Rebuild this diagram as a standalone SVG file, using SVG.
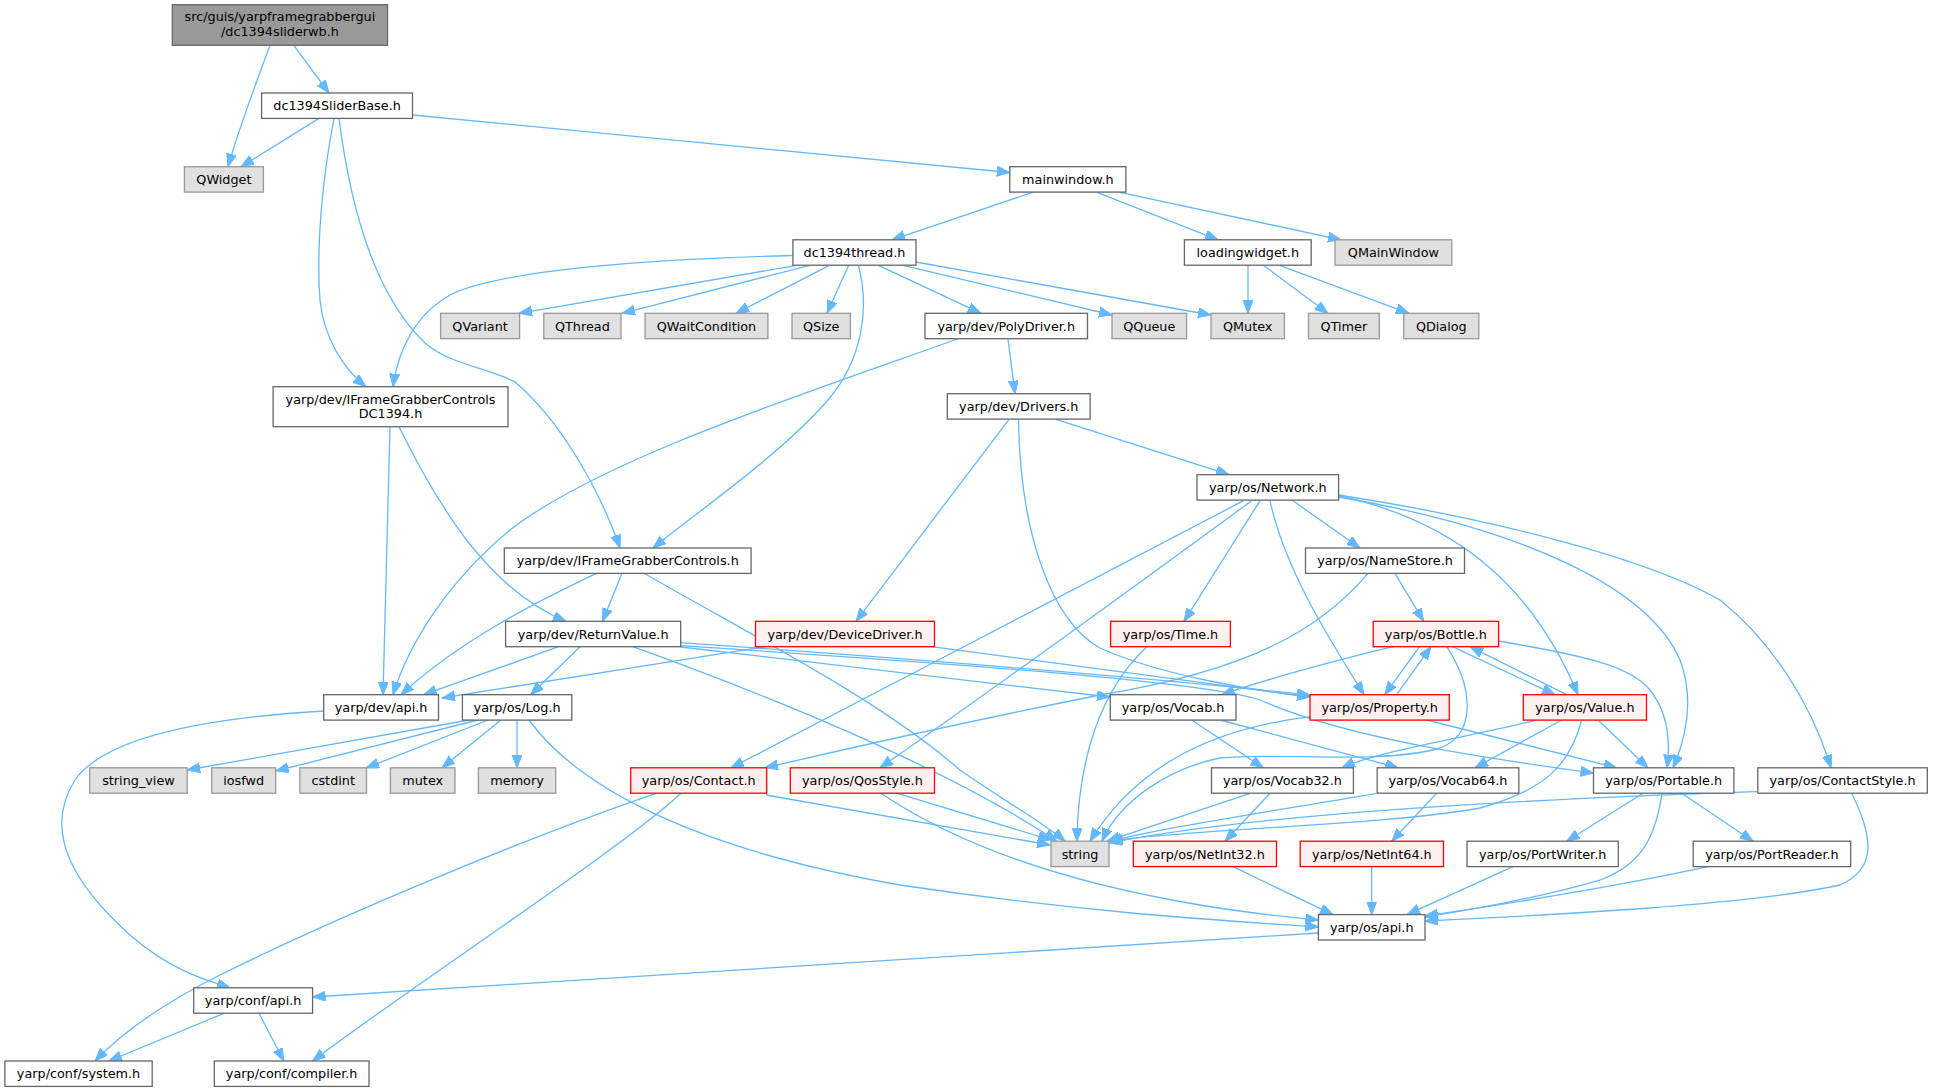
<svg xmlns="http://www.w3.org/2000/svg" width="1933" height="1092" viewBox="0 0 1933 1092">
<style>
rect{stroke-width:1.3}
.n{fill:#ffffff;stroke:#666666}
.g{fill:#e0e0e0;stroke:#999999}
.r{fill:#fff0f0;stroke:#ff0000}
.root{fill:#999999;stroke:#666666}
text{font-family:"DejaVu Sans","Liberation Sans",sans-serif;font-size:12.8px;text-anchor:middle;fill:#000000}
#edges path{fill:none;stroke:#63b8ff;stroke-width:1.3;marker-end:url(#a)}
</style>
<defs>
<marker id="a" markerUnits="userSpaceOnUse" markerWidth="14" markerHeight="11" refX="13" refY="5" orient="auto">
<path d="M0,0 L13,5 L0,10 z" fill="#63b8ff" stroke="#63b8ff" stroke-width="1"/>
</marker>
</defs>
<rect width="1933" height="1092" fill="#ffffff"/>
<g id="edges">
<path d="M270,45.3 C258,78 240,125 228,166.7"/>
<path d="M293.8,45.3 L329,93"/>
<path d="M319,118.4 L241,166.7"/>
<path d="M334,118.4 C322,180 316,250 320,300 C324,340 345,370 366,386.7"/>
<path d="M339,118.4 C352,220 380,300 425,343 C450,365 490,368 515,382 C560,420 600,490 620,548"/>
<path d="M412.5,115 L1009.8,172.5"/>
<path d="M1032.6,192.3 L892,239.8"/>
<path d="M1097,192.3 L1218,239.8"/>
<path d="M1120,192.3 L1341,239.8"/>
<path d="M792.9,255.5 C650,259 500,270 450,295 C415,315 398,350 393,386.7"/>
<path d="M797,265.3 L519,313.3"/>
<path d="M810,265.3 L622,313.3"/>
<path d="M829.5,265.3 L736,313.3"/>
<path d="M848.7,265.3 L827,313.3"/>
<path d="M858.5,265.3 C870,310 862,360 828,400 C780,455 700,510 653,548"/>
<path d="M878.6,265.3 L981,313.3"/>
<path d="M903,265.3 L1112,315"/>
<path d="M916,262 L1211,315"/>
<path d="M1248,265.3 L1248,313.3"/>
<path d="M1263.4,265.3 L1328,313.3"/>
<path d="M1279.5,265.3 L1409,313.3"/>
<path d="M1008,339 L1015,393.7"/>
<path d="M957.6,339 C800,395 600,460 510,530 C450,580 410,640 393,694.7"/>
<path d="M390,426.7 L383,694.7"/>
<path d="M399,426.7 C440,510 490,590 566,621.3"/>
<path d="M596.5,573.3 C540,600 460,640 401,694.7"/>
<path d="M622,573.3 L602.6,621.3"/>
<path d="M644,573.3 C760,640 880,700 960,770 C1010,805 1040,820 1065,841.2"/>
<path d="M558.6,646.7 L423.7,694.7"/>
<path d="M580,646.7 L530.6,694.7"/>
<path d="M680.7,647 L1110,697"/>
<path d="M680.7,642.7 C900,658 1150,678 1310,695"/>
<path d="M680.7,645.7 C900,660 1200,680 1260,700 C1350,740 1500,760 1593.5,773"/>
<path d="M633,646.7 C780,700 950,770 1057,841.2"/>
<path d="M469,720 L187.2,770"/>
<path d="M478,720 L275.6,771"/>
<path d="M488,720 L366,768"/>
<path d="M501,720 L442,767.8"/>
<path d="M517,720 L517,767.8"/>
<path d="M529,720 C580,790 700,850 900,885 C1100,915 1250,922 1318.4,927"/>
<path d="M323.7,711 C240,716 110,730 75,780 C40,835 80,890 130,935 C170,970 205,980 230,987.8"/>
<path d="M224,1013.3 L109,1061"/>
<path d="M259,1013.3 L283.8,1061"/>
<path d="M1318.4,933 C900,958 500,985 312.6,997"/>
<path d="M656,793.3 C520,840 330,920 220,975 C160,1005 120,1035 95,1061"/>
<path d="M681,793.3 C620,850 420,980 312.6,1061"/>
<path d="M766,795 L1050,845"/>
<path d="M897.5,793.3 L1051,840"/>
<path d="M881,793.3 C950,840 1050,880 1200,905 C1260,915 1300,918 1318.4,920"/>
<path d="M1243.5,500.7 C1150,550 900,680 731,767.8"/>
<path d="M1251.7,500.7 C1150,575 1000,685 880,767.8"/>
<path d="M1260,500.7 L1184,621.3"/>
<path d="M1270,500.7 C1285,570 1330,640 1364,694.7"/>
<path d="M1288,497.3 L1360,548"/>
<path d="M1338.6,495.7 C1450,520 1530,580 1578,694.7"/>
<path d="M1338.6,497 C1530,530 1650,590 1680,660 C1695,700 1685,740 1673,767.8"/>
<path d="M1338.6,495 C1500,520 1650,560 1720,600 C1770,640 1810,700 1831,767.8"/>
<path d="M1395,573.3 L1423.7,621.3"/>
<path d="M1368,573.3 C1320,630 1250,670 1100,695 C950,725 820,755 765,767.8"/>
<path d="M1147,646.7 C1100,690 1078,760 1077,841.2"/>
<path d="M1419.6,646.7 L1384.7,694.7"/>
<path d="M1396.7,694.7 L1431,646.7"/>
<path d="M1452.5,646.7 L1555,694.7"/>
<path d="M1566.7,694.7 L1470,646.7"/>
<path d="M1393,646.7 C1330,662 1270,678 1221.7,694.7"/>
<path d="M1446.7,646.7 C1475,690 1475,735 1440,748 C1380,765 1280,752 1220,758 C1170,768 1120,800 1102,841.2"/>
<path d="M1498.6,641 C1580,655 1630,665 1650,690 C1670,715 1670,745 1667,767.8"/>
<path d="M765.4,646.7 C650,665 520,685 442,698"/>
<path d="M931.4,646.7 L1310,697"/>
<path d="M1009,419.3 L856,621.3"/>
<path d="M1056,419.3 L1229,474.7"/>
<path d="M1018.5,419.3 C1020,530 1050,620 1100,648 C1160,675 1250,690 1310,697"/>
<path d="M1191.7,720 L1263.3,767.8"/>
<path d="M1220,720 L1398.3,767.8"/>
<path d="M1536.7,720 C1480,735 1380,750 1342,767.8"/>
<path d="M1561.7,720 L1475,767.8"/>
<path d="M1598,720 L1648,767.8"/>
<path d="M1581.7,720 C1570,765 1545,790 1480,808 C1380,826 1200,828 1110,841"/>
<path d="M1310,716.7 C1220,728 1140,760 1090,841.2"/>
<path d="M1426.7,720 L1616.7,767.8"/>
<path d="M1250,793.3 L1107,841.2"/>
<path d="M1270,793.3 L1225,841.2"/>
<path d="M1376.7,793.3 C1250,815 1150,830 1109,842"/>
<path d="M1436.7,793.3 L1391.7,841.2"/>
<path d="M1757,791.7 C1500,800 1250,815 1109,843"/>
<path d="M1851.6,793.3 C1875,840 1875,870 1840,885 C1750,905 1550,915 1425,921"/>
<path d="M1643,793.3 L1566.7,841.2"/>
<path d="M1681.7,793.3 L1753,841.2"/>
<path d="M1662,793.3 C1655,840 1640,865 1600,880 C1530,900 1470,910 1425,917"/>
<path d="M1233,866.7 L1333,914.6"/>
<path d="M1371.7,866.7 L1371.7,914.6"/>
<path d="M1513,866.7 L1407,914.6"/>
<path d="M1708,866.7 C1600,890 1500,905 1425,916"/>
</g>
<g id="root"><rect class="root" x="172.3" y="4.7" width="215.2" height="40.6"/><text x="279.9" y="21.3">src/guis/yarpframegrabbergui</text><text x="279.9" y="36.3">/dc1394sliderwb.h</text></g>
<g id="dc1394SliderBase"><rect class="n" x="261.6" y="93" width="150.9" height="25.4"/><text x="337.05" y="110.3">dc1394SliderBase.h</text></g>
<g id="QWidget"><rect class="g" x="184.4" y="166.7" width="79" height="25.4"/><text x="223.9" y="184">QWidget</text></g>
<g id="mainwindow"><rect class="n" x="1009.8" y="166.7" width="116.1" height="25.4"/><text x="1067.85" y="184">mainwindow.h</text></g>
<g id="dc1394thread"><rect class="n" x="792.9" y="239.8" width="123.1" height="25.4"/><text x="854.45" y="257.1">dc1394thread.h</text></g>
<g id="loadingwidget"><rect class="n" x="1184.4" y="239.8" width="126.8" height="25.4"/><text x="1247.8" y="257.1">loadingwidget.h</text></g>
<g id="QMainWindow"><rect class="g" x="1335" y="239.8" width="116.8" height="25.4"/><text x="1393.4" y="257.1">QMainWindow</text></g>
<g id="QVariant"><rect class="g" x="440.6" y="313.3" width="79" height="25.4"/><text x="480.1" y="330.6">QVariant</text></g>
<g id="QThread"><rect class="g" x="543.8" y="313.3" width="77.2" height="25.4"/><text x="582.4" y="330.6">QThread</text></g>
<g id="QWaitCondition"><rect class="g" x="645" y="313.3" width="122.9" height="25.4"/><text x="706.45" y="330.6">QWaitCondition</text></g>
<g id="QSize"><rect class="g" x="792" y="313.3" width="58.4" height="25.4"/><text x="821.2" y="330.6">QSize</text></g>
<g id="PolyDriver"><rect class="n" x="925" y="313.3" width="162.5" height="25.4"/><text x="1006.25" y="330.6">yarp/dev/PolyDriver.h</text></g>
<g id="QQueue"><rect class="g" x="1112" y="313.3" width="74.6" height="25.4"/><text x="1149.3" y="330.6">QQueue</text></g>
<g id="QMutex"><rect class="g" x="1211" y="313.3" width="73.4" height="25.4"/><text x="1247.7" y="330.6">QMutex</text></g>
<g id="QTimer"><rect class="g" x="1308.5" y="313.3" width="70.8" height="25.4"/><text x="1343.9" y="330.6">QTimer</text></g>
<g id="QDialog"><rect class="g" x="1403.8" y="313.3" width="75" height="25.4"/><text x="1441.3" y="330.6">QDialog</text></g>
<g id="IFrameGrabberControlsDC1394"><rect class="n" x="273.1" y="386.7" width="234.9" height="40"/><text x="390.55" y="403.5">yarp/dev/IFrameGrabberControls</text><text x="390.55" y="417.5">DC1394.h</text></g>
<g id="Drivers"><rect class="n" x="947.3" y="393.7" width="142.8" height="25.4"/><text x="1018.7" y="411">yarp/dev/Drivers.h</text></g>
<g id="Network"><rect class="n" x="1197" y="474.7" width="141.6" height="25.4"/><text x="1267.8" y="492">yarp/os/Network.h</text></g>
<g id="IFrameGrabberControls"><rect class="n" x="504.3" y="548" width="246.8" height="25.4"/><text x="627.7" y="565.3">yarp/dev/IFrameGrabberControls.h</text></g>
<g id="NameStore"><rect class="n" x="1305.5" y="548" width="159" height="25.4"/><text x="1385" y="565.3">yarp/os/NameStore.h</text></g>
<g id="ReturnValue"><rect class="n" x="505.6" y="621.3" width="175.1" height="25.4"/><text x="593.15" y="638.6">yarp/dev/ReturnValue.h</text></g>
<g id="DeviceDriver"><rect class="r" x="755.5" y="621.3" width="179" height="25.4"/><text x="845" y="638.6">yarp/dev/DeviceDriver.h</text></g>
<g id="Time"><rect class="r" x="1110.6" y="621.3" width="119.8" height="25.4"/><text x="1170.5" y="638.6">yarp/os/Time.h</text></g>
<g id="Bottle"><rect class="r" x="1373.2" y="621.3" width="125.4" height="25.4"/><text x="1435.9" y="638.6">yarp/os/Bottle.h</text></g>
<g id="devapi"><rect class="n" x="323.7" y="694.7" width="114.8" height="25.4"/><text x="381.1" y="712">yarp/dev/api.h</text></g>
<g id="Log"><rect class="n" x="462.4" y="694.7" width="109.4" height="25.4"/><text x="517.1" y="712">yarp/os/Log.h</text></g>
<g id="Vocab"><rect class="n" x="1110.3" y="694.7" width="125.7" height="25.4"/><text x="1173.15" y="712">yarp/os/Vocab.h</text></g>
<g id="Property"><rect class="r" x="1310" y="694.7" width="139.3" height="25.4"/><text x="1379.65" y="712">yarp/os/Property.h</text></g>
<g id="Value"><rect class="r" x="1523.3" y="694.7" width="123.2" height="25.4"/><text x="1584.9" y="712">yarp/os/Value.h</text></g>
<g id="string_view"><rect class="g" x="89.7" y="767.8" width="97.5" height="25.4"/><text x="138.45" y="785.1">string_view</text></g>
<g id="iosfwd"><rect class="g" x="211.8" y="767.8" width="63.8" height="25.4"/><text x="243.7" y="785.1">iosfwd</text></g>
<g id="cstdint"><rect class="g" x="299.9" y="767.8" width="66.6" height="25.4"/><text x="333.2" y="785.1">cstdint</text></g>
<g id="mutex"><rect class="g" x="390.4" y="767.8" width="64.6" height="25.4"/><text x="422.7" y="785.1">mutex</text></g>
<g id="memory"><rect class="g" x="478.4" y="767.8" width="77.3" height="25.4"/><text x="517.05" y="785.1">memory</text></g>
<g id="Contact"><rect class="r" x="630.7" y="767.8" width="136" height="25.4"/><text x="698.7" y="785.1">yarp/os/Contact.h</text></g>
<g id="QosStyle"><rect class="r" x="790.3" y="767.8" width="144.2" height="25.4"/><text x="862.4" y="785.1">yarp/os/QosStyle.h</text></g>
<g id="Vocab32"><rect class="n" x="1211.5" y="767.8" width="141.9" height="25.4"/><text x="1282.45" y="785.1">yarp/os/Vocab32.h</text></g>
<g id="Vocab64"><rect class="n" x="1377.2" y="767.8" width="141.6" height="25.4"/><text x="1448" y="785.1">yarp/os/Vocab64.h</text></g>
<g id="Portable"><rect class="n" x="1593.5" y="767.8" width="140.4" height="25.4"/><text x="1663.7" y="785.1">yarp/os/Portable.h</text></g>
<g id="ContactStyle"><rect class="n" x="1757.8" y="767.8" width="169.5" height="25.4"/><text x="1842.55" y="785.1">yarp/os/ContactStyle.h</text></g>
<g id="string"><rect class="g" x="1051" y="841.2" width="58" height="25.4"/><text x="1080" y="858.5">string</text></g>
<g id="NetInt32"><rect class="r" x="1133.3" y="841.2" width="143.2" height="25.4"/><text x="1204.9" y="858.5">yarp/os/NetInt32.h</text></g>
<g id="NetInt64"><rect class="r" x="1300.2" y="841.2" width="143.3" height="25.4"/><text x="1371.85" y="858.5">yarp/os/NetInt64.h</text></g>
<g id="PortWriter"><rect class="n" x="1467" y="841.2" width="151.3" height="25.4"/><text x="1542.65" y="858.5">yarp/os/PortWriter.h</text></g>
<g id="PortReader"><rect class="n" x="1693.2" y="841.2" width="157.5" height="25.4"/><text x="1771.95" y="858.5">yarp/os/PortReader.h</text></g>
<g id="osapi"><rect class="n" x="1318.4" y="914.6" width="106.6" height="25.4"/><text x="1371.7" y="931.9">yarp/os/api.h</text></g>
<g id="confapi"><rect class="n" x="193.7" y="987.8" width="118.9" height="25.4"/><text x="253.15" y="1005.1">yarp/conf/api.h</text></g>
<g id="system"><rect class="n" x="4.9" y="1061" width="147.3" height="25.4"/><text x="78.55" y="1078.3">yarp/conf/system.h</text></g>
<g id="compiler"><rect class="n" x="214.3" y="1061" width="154.7" height="25.4"/><text x="291.65" y="1078.3">yarp/conf/compiler.h</text></g>
</svg>
